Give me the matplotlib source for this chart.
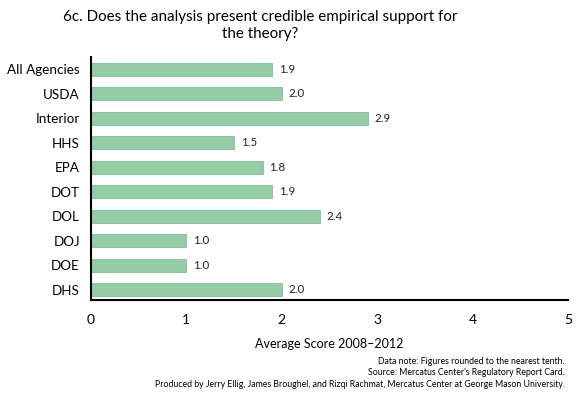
import matplotlib
matplotlib.use("Agg")
import matplotlib.pyplot as plt

categories = ["All Agencies", "USDA", "Interior", "HHS", "EPA", "DOT", "DOL", "DOJ", "DOE", "DHS"]
values = [1.9, 2.0, 2.9, 1.5, 1.8, 1.9, 2.4, 1.0, 1.0, 2.0]
xticks = [0, 1, 2, 3, 4, 5]

plt.rcParams['font.family'] = ['Lato', 'DejaVu Sans']

fig = plt.figure(figsize=(5.85, 3.97), dpi=100)
ax = fig.add_axes([91/585, 1-300/397, (568-91)/585, (300-57)/397])

y = list(range(len(categories)))
ax.barh(y, values, height=0.54, color="#93cca5", edgecolor="#7fbf93", linewidth=0.6)
for yi, v in zip(y, values):
    ax.text(v + 0.07, yi, f"{v:.1f}", va="center", ha="left", fontsize=8.3, color="#222222")

ax.set_yticks(y)
ax.set_yticklabels(categories, fontsize=9.7)
ax.set_xticks(xticks)
ax.set_xticklabels([str(t) for t in xticks], fontsize=10)
ax.set_xlim(0, 5)
ax.set_ylim(9.42, -0.5)
ax.tick_params(axis='both', length=0)
ax.tick_params(axis='x', pad=10)
ax.tick_params(axis='y', pad=8)
for s in ["top", "right"]:
    ax.spines[s].set_visible(False)
for s in ["left", "bottom"]:
    ax.spines[s].set_linewidth(1.5)
    ax.spines[s].set_color("black")
ax.set_xlabel("Average Score 2008–2012", fontsize=9, labelpad=9)

fig.text(260/585, 1-10/397, "6c. Does the analysis present credible empirical support for\nthe theory?",
         ha="center", va="top", fontsize=10.9, linespacing=1.3)

foot = ("Data note: Figures rounded to the nearest tenth.\n"
        "Source: Mercatus Center's Regulatory Report Card.\n"
        "Produced by Jerry Ellig, James Broughel, and Rizqi Rachmat, Mercatus Center at George Mason University.")
fig.text(565/585, 1-357/397, foot, ha="right", va="top", fontsize=6.3, linespacing=1.35, multialignment="right")

fig.savefig("out.png", dpi=100)
